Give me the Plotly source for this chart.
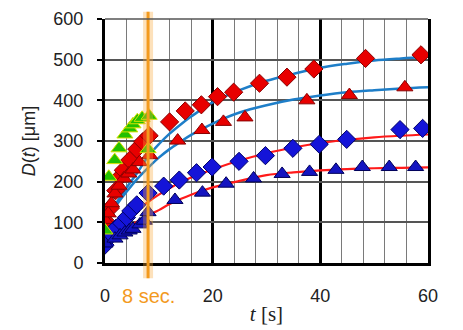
"""
Growth of D(t) for five measurement series with saturating fit curves.
"""

import plotly.graph_objects as go

# ---- measured points (t in s, D in um) ----
red_dia_t = [0, 1, 2, 2.8, 3.4, 4.6, 5.9, 7.0, 8.2, 12.0, 14.9, 17.9, 20.9, 23.9, 28.7, 33.8, 38.8, 48.4, 58.7]
red_dia_d = [105, 135, 178, 212, 228, 253, 280, 298, 313, 347, 374, 389, 409, 420, 442, 457, 477, 503, 512]

red_tri_t = [0, 0.6, 1.2, 1.85, 2.6, 3.5, 4.4, 5.2, 6.4, 8.3, 13.5, 18.0, 22.0, 26.0, 37.5, 45.4, 55.7]
red_tri_d = [106, 122, 147, 171, 190, 208, 220, 230, 248, 265, 301, 327, 347, 358, 400, 413, 432]

blue_dia_t = [0, 1.2, 2.0, 3.1, 4.0, 4.8, 5.9, 8.0, 10.9, 13.8, 17.0, 19.9, 24.9, 29.8, 34.9, 39.8, 44.9, 54.8, 59.0]
blue_dia_d = [44, 69, 85, 98, 112, 128, 143, 172, 189, 204, 222, 236, 250, 264, 282, 292, 304, 328, 331]

blue_tri_t = [0, 1.85, 2.8, 3.7, 4.5, 5.2, 6.5, 7.3, 8.0, 13.0, 18.1, 22.5, 27.6, 32.9, 38.0, 42.9, 47.8, 52.8, 57.7]
blue_tri_d = [48, 60, 68, 75, 80, 84, 95, 104, 125, 155, 173, 195, 208, 219, 224, 229, 236, 236, 236]

green_tri_t = [0, 0.7, 1.8, 2.6, 3.7, 4.6, 5.2, 6.0, 6.9, 8.2, 8.0]
green_tri_d = [80, 212, 253, 282, 316, 331, 341, 351, 357, 362, 280]

# ---- fit curves ----
fit_t = [0, 2, 4, 6, 8, 10, 12, 14, 16, 20, 25, 30, 35, 40, 45, 50, 55, 60]
fit_red_dia = [100, 145, 185, 222, 262, 292, 318, 340, 360, 395, 425, 448, 465, 480, 490, 498, 503, 507]
fit_red_tri = [100, 140, 175, 207, 234, 259, 280, 298, 315, 343, 370, 388, 402, 412, 420, 425, 429, 432]
fit_blue_dia = [62, 85, 108, 130, 150, 168, 184, 198, 210, 230, 252, 270, 284, 295, 303, 309, 313, 316]
fit_blue_tri = [60, 72, 86, 102, 117, 130, 145, 157, 168, 186, 202, 216, 223, 228, 231, 233, 234, 235]

x_ticks = [0, 20, 40, 60]
y_ticks = [0, 100, 200, 300, 400, 500, 600]
marker_time = 8

ORANGE = "#F39A1E"
SANS = "Liberation Sans, Arial, sans-serif"
SERIF = "Liberation Serif, Times New Roman, serif"

fig = go.Figure()

# fit curves behind markers
for ys, color, width in [
    (fit_red_dia, "#1E7EC8", 2.5),
    (fit_red_tri, "#1E7EC8", 2.5),
    (fit_blue_dia, "#FF1A1A", 2.2),
    (fit_blue_tri, "#FF1A1A", 2.2),
]:
    fig.add_trace(go.Scatter(
        x=fit_t, y=ys, mode="lines",
        line=dict(color=color, width=width, shape="spline"),
        hoverinfo="skip", showlegend=False
    ))

series = [
    (red_dia_t, red_dia_d, "diamond", 14, "#E80000", "#8A0000"),
    (red_tri_t, red_tri_d, "triangle-up", 14, "#E80000", "#8A0000"),
    (blue_dia_t, blue_dia_d, "diamond", 14, "#1414D8", "#00006A"),
    (blue_tri_t, blue_tri_d, "triangle-up", 14, "#1414C0", "#00005A"),
    (green_tri_t, green_tri_d, "triangle-up", 14, "#22C000", "#D8E000"),
]
for xs, ys, sym, size, fill, edge in series:
    fig.add_trace(go.Scatter(
        x=xs, y=ys, mode="markers",
        marker=dict(symbol=sym, size=size, color=fill, line=dict(color=edge, width=1)),
        showlegend=False
    ))

# orange "8 sec." marker line with glow
fig.add_shape(type="line", xref="x", yref="paper", x0=marker_time, x1=marker_time,
              y0=-0.062, y1=1.03, line=dict(color="rgba(250,170,60,0.35)", width=10))
fig.add_shape(type="line", xref="x", yref="paper", x0=marker_time, x1=marker_time,
              y0=-0.062, y1=1.03, line=dict(color=ORANGE, width=3))
fig.add_annotation(x=marker_time, xref="x", y=-0.135, yref="paper", text="8 sec.",
                   showarrow=False, font=dict(family=SANS, size=20, color=ORANGE),
                   xanchor="center", yanchor="middle")

# top border of the plot area (grey like the grid)
fig.add_shape(type="line", xref="paper", yref="paper", x0=0, x1=1, y0=1, y1=1,
              line=dict(color="#555555", width=1.5))

# the page adds an 8px body margin, so the margins are shifted to compensate
fig.update_layout(
    width=463, height=330,
    margin=dict(l=97, r=43, t=11, b=75),
    paper_bgcolor="white", plot_bgcolor="white",
    font=dict(family=SANS, size=18, color="#222222"),
)
fig.update_xaxes(
    range=[0, 60], tickvals=x_ticks, ticks="", ticklabelstandoff=14, automargin=False,
    showgrid=True, gridcolor="black", gridwidth=2.5,
    minor=dict(dtick=4, showgrid=True, gridcolor="#7a7a7a", gridwidth=1),
    showline=True, linecolor="black", linewidth=3, zeroline=False,
    title=dict(text="<i>t</i> [s]", font=dict(family=SERIF, size=21, color="#222222"), standoff=2),
)
fig.update_yaxes(
    range=[0, 600], tickvals=y_ticks, ticks="outside", ticklen=5, tickwidth=2, tickcolor="black",
    ticklabelstandoff=10, automargin=False,
    showgrid=True, gridcolor="#555555", gridwidth=1.5,
    showline=True, linecolor="black", linewidth=3, mirror=True, zeroline=False,
    title=dict(text="<i>D</i>(<i>t</i>) [μm]", font=dict(family=SANS, size=18, color="#222222"), standoff=14),
)

fig.write_html("out.html")
